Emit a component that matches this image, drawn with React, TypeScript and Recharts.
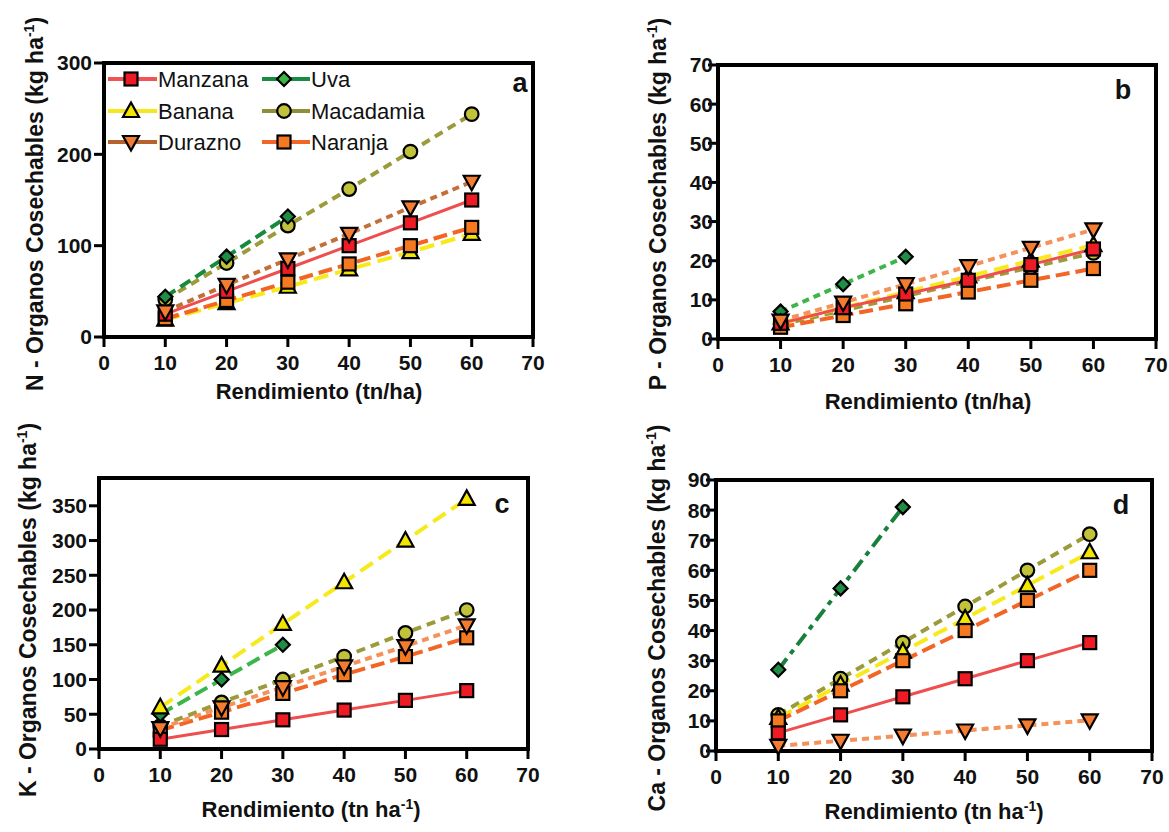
import { LineChart, Line, XAxis, YAxis, ReferenceLine } from "recharts";

const FONT = '"Liberation Sans", Arial, Helvetica, sans-serif';

// x values (tn/ha)
const rendimiento = [10, 20, 30, 40, 50, 60];
const xTicks = [0, 10, 20, 30, 40, 50, 60, 70];

// a - N
const nManzana = [25, 50, 75, 100, 125, 150];
const nBanana = [19, 37, 55, 74, 93, 113];
const nDurazno = [28, 57, 85, 113, 142, 170];
const nUva = [44, 88, 132];
const nMacadamia = [41, 81, 122, 162, 203, 244];
const nNaranja = [20, 40, 60, 80, 100, 120];
const nTicks = [0, 100, 200, 300];

// b - P
const pManzana = [4, 8, 11.5, 15, 19, 23];
const pBanana = [4, 8, 12, 16, 20, 24];
const pDurazno = [4.7, 9.3, 14, 18.6, 23.3, 28];
const pUva = [7, 14, 21];
const pMacadamia = [3.7, 7.3, 11, 14.7, 18.3, 22];
const pNaranja = [3, 6, 9, 12, 15, 18];
const pTicks = [0, 10, 20, 30, 40, 50, 60, 70];

// c - K
const kManzana = [14, 28, 42, 56, 70, 84];
const kBanana = [60, 120, 180, 240, 300, 360];
const kDurazno = [30, 60, 89, 119, 148, 178];
const kUva = [50, 100, 150];
const kMacadamia = [33, 67, 100, 133, 167, 200];
const kNaranja = [27, 53, 80, 107, 133, 160];
const kTicks = [0, 50, 100, 150, 200, 250, 300, 350];

// d - Ca
const caManzana = [6, 12, 18, 24, 30, 36];
const caBanana = [11, 22, 33, 44, 55, 66];
const caDurazno = [1.7, 3.4, 5.1, 6.8, 8.5, 10.2];
const caUva = [27, 54, 81];
const caMacadamia = [12, 24, 36, 48, 60, 72];
const caNaranja = [10, 20, 30, 40, 50, 60];
const caTicks = [0, 10, 20, 30, 40, 50, 60, 70, 80, 90];

type Shape = "square" | "triangle" | "down" | "diamond" | "circle";

function marker(shape: Shape, cx: number, cy: number, fill: string, key?: any) {
  const s = { fill, stroke: "#000", strokeWidth: 2.2 };
  if (shape === "square")
    return <rect key={key} x={cx - 6.5} y={cy - 6.5} width={13} height={13} {...s} />;
  if (shape === "circle") return <circle key={key} cx={cx} cy={cy} r={6.8} {...s} />;
  if (shape === "triangle")
    return <polygon key={key} points={`${cx},${cy - 8.5} ${cx + 8},${cy + 6} ${cx - 8},${cy + 6}`} {...s} />;
  if (shape === "down")
    return <polygon key={key} points={`${cx - 8},${cy - 6} ${cx + 8},${cy - 6} ${cx},${cy + 8.5}`} {...s} />;
  return <polygon key={key} points={`${cx},${cy - 7} ${cx + 7},${cy} ${cx},${cy + 7} ${cx - 7},${cy}`} {...s} />;
}

const dotFn = (shape: Shape, fill: string) => (props: any) => {
  const { cx, cy, index } = props;
  if (cx == null || cy == null || Number.isNaN(cy)) return <g key={`e-${index}`} />;
  return marker(shape, cx, cy, fill, `d-${index}`);
};

type SeriesStyle = { name: string; stroke: string; width: number; dash?: string; shape: Shape; fill: string };

const baseStyles: SeriesStyle[] = [
  { name: "Macadamia", stroke: "#9b9b3b", width: 4, dash: "9 6", shape: "circle", fill: "#c1c23a" },
  { name: "Uva", stroke: "#178a3e", width: 4, dash: "12 6", shape: "diamond", fill: "#1f8d45" },
  { name: "Banana", stroke: "#f7ea1c", width: 4, dash: "15 7", shape: "triangle", fill: "#f2e500" },
  { name: "Naranja", stroke: "#f26524", width: 4, dash: "14 6", shape: "square", fill: "#f47920" },
  { name: "Manzana", stroke: "#f04e4e", width: 3, shape: "square", fill: "#ed1c24" },
  { name: "Durazno", stroke: "#f5915a", width: 4, dash: "7 5", shape: "down", fill: "#f47c30" },
];

function buildRows(m: number[], b: number[], d: number[], u: number[], mac: number[], n: number[]) {
  return rendimiento.map((x, i) => ({
    x,
    Manzana: m[i],
    Banana: b[i],
    Durazno: d[i],
    Uva: u[i],
    Macadamia: mac[i],
    Naranja: n[i],
  }));
}

type Frame = { left: number; top: number; width: number; height: number };
type Box = { l: number; t: number; r: number; b: number };

function Panel({
  frame,
  plot,
  rows,
  yMax,
  yTicks,
  yTickMargin,
  uva,
  duraznoStroke,
}: {
  frame: Frame;
  plot: Box;
  rows: any[];
  yMax: number;
  yTicks: number[];
  yTickMargin: number;
  uva: { stroke: string; dash: string };
  duraznoStroke: string;
}) {
  const YW = 60;
  const XH = 40;
  const margin = {
    left: plot.l - frame.left - YW,
    top: plot.t - frame.top,
    right: frame.left + frame.width - plot.r,
    bottom: frame.top + frame.height - plot.b - XH,
  };
  const tickStyle = { fill: "#111", fontSize: 21, fontWeight: 700, fontFamily: FONT };
  const styles = baseStyles.map((s) =>
    s.name === "Uva" ? { ...s, stroke: uva.stroke, dash: uva.dash } : s.name === "Durazno" ? { ...s, stroke: duraznoStroke } : s
  );
  return (
    <div style={{ position: "absolute", left: frame.left, top: frame.top }}>
      <LineChart width={frame.width} height={frame.height} data={rows} margin={margin}>
        <XAxis
          type="number"
          dataKey="x"
          domain={[0, 70]}
          ticks={xTicks}
          interval={0}
          height={XH}
          tick={tickStyle}
          tickSize={10}
          tickMargin={8}
          tickLine={{ stroke: "#000", strokeWidth: 3 }}
          axisLine={{ stroke: "#000", strokeWidth: 4, strokeLinecap: "square" }}
        />
        <YAxis
          type="number"
          domain={[0, yMax]}
          ticks={yTicks}
          interval={0}
          width={YW}
          tick={tickStyle}
          tickSize={10}
          tickMargin={yTickMargin}
          tickLine={{ stroke: "#000", strokeWidth: 3 }}
          axisLine={{ stroke: "#000", strokeWidth: 4, strokeLinecap: "square" }}
        />
        <ReferenceLine y={yMax} stroke="#000" strokeWidth={4} strokeLinecap="square" />
        <ReferenceLine x={70} stroke="#000" strokeWidth={4} strokeLinecap="square" />
        {styles.map((s) => (
          <Line
            key={s.name}
            type="linear"
            dataKey={s.name}
            stroke={s.stroke}
            strokeWidth={s.width}
            strokeDasharray={s.dash}
            dot={dotFn(s.shape, s.fill)}
            activeDot={false}
            connectNulls={false}
            isAnimationActive={false}
          />
        ))}
      </LineChart>
    </div>
  );
}

const titleBase = { position: "absolute" as const, whiteSpace: "nowrap" as const, fontFamily: FONT, fontWeight: 700, color: "#111" };

function YTitle({ x, y, el }: { x: number; y: number; el: string }) {
  return (
    <div style={{ ...titleBase, left: x, top: y, fontSize: 23, lineHeight: "24px", transform: "translate(-50%,-50%) rotate(-90deg)" }}>
      {el} - Organos Cosechables (kg ha<sup style={{ fontSize: 14, lineHeight: 0 }}>-1</sup>)
    </div>
  );
}

function XTitle({ x, y, sup }: { x: number; y: number; sup: boolean }) {
  return (
    <div style={{ ...titleBase, left: x, top: y, fontSize: 22, lineHeight: "24px", transform: "translate(-50%,-50%)" }}>
      {sup ? (
        <>
          Rendimiento (tn ha<sup style={{ fontSize: 14, lineHeight: 0 }}>-1</sup>)
        </>
      ) : (
        "Rendimiento (tn/ha)"
      )}
    </div>
  );
}

function Letter({ x, y, t }: { x: number; y: number; t: string }) {
  return <div style={{ ...titleBase, left: x, top: y, fontSize: 27, lineHeight: "28px", transform: "translate(-50%,-50%)" }}>{t}</div>;
}

const legendItems = [
  { name: "Manzana", line: "#f05454", shape: "square" as Shape, fill: "#ed1c24", col: 0, row: 0 },
  { name: "Banana", line: "#f5e61e", shape: "triangle" as Shape, fill: "#f2e500", col: 0, row: 1 },
  { name: "Durazno", line: "#b5622e", shape: "down" as Shape, fill: "#f47c30", col: 0, row: 2 },
  { name: "Uva", line: "#1a8b42", shape: "diamond" as Shape, fill: "#3ab54a", col: 1, row: 0 },
  { name: "Macadamia", line: "#8f8f3a", shape: "circle" as Shape, fill: "#c1c23a", col: 1, row: 1 },
  { name: "Naranja", line: "#f06528", shape: "square" as Shape, fill: "#f47920", col: 1, row: 2 },
];

function LegendBox() {
  const cols = [
    { x1: 8, x2: 57, m: 31, t: 58 },
    { x1: 162, x2: 210, m: 184, t: 211 },
  ];
  const rowsY = [19, 51, 82];
  return (
    <svg style={{ position: "absolute", left: 100, top: 60 }} width={360} height={100}>
      {legendItems.map((it) => {
        const c = cols[it.col];
        const y = rowsY[it.row];
        return (
          <g key={it.name}>
            <line x1={c.x1} x2={c.x2} y1={y} y2={y} stroke={it.line} strokeWidth={4} />
            {marker(it.shape, c.m, y, it.fill)}
            <text x={c.t} y={y} dominantBaseline="central" fontSize={22} fontFamily={FONT} fill="#111">
              {it.name}
            </text>
          </g>
        );
      })}
    </svg>
  );
}

export default function App() {
  const rowsN = buildRows(nManzana, nBanana, nDurazno, nUva, nMacadamia, nNaranja);
  const rowsP = buildRows(pManzana, pBanana, pDurazno, pUva, pMacadamia, pNaranja);
  const rowsK = buildRows(kManzana, kBanana, kDurazno, kUva, kMacadamia, kNaranja);
  const rowsCa = buildRows(caManzana, caBanana, caDurazno, caUva, caMacadamia, caNaranja);

  return (
    <div style={{ position: "absolute", left: 0, top: 0, width: 1169, height: 832, background: "#fff", overflow: "hidden", fontFamily: FONT }}>
      <Panel
        frame={{ left: 0, top: 20, width: 580, height: 400 }}
        plot={{ l: 104, t: 63, r: 533, b: 337 }}
        rows={rowsN}
        yMax={300}
        yTicks={nTicks}
        yTickMargin={2}
        uva={{ stroke: "#178a3e", dash: "12 6" }}
        duraznoStroke="#c27038"
      />
      <Panel
        frame={{ left: 590, top: 20, width: 579, height: 400 }}
        plot={{ l: 718, t: 65, r: 1156, b: 339 }}
        rows={rowsP}
        yMax={70}
        yTicks={pTicks}
        yTickMargin={-5}
        uva={{ stroke: "#3db54a", dash: "7 5" }}
        duraznoStroke="#f5915a"
      />
      <Panel
        frame={{ left: 0, top: 440, width: 580, height: 392 }}
        plot={{ l: 99, t: 478, r: 528, b: 749 }}
        rows={rowsK}
        yMax={390}
        yTicks={kTicks}
        yTickMargin={2}
        uva={{ stroke: "#3cb54a", dash: "14 6" }}
        duraznoStroke="#f5915a"
      />
      <Panel
        frame={{ left: 590, top: 440, width: 579, height: 392 }}
        plot={{ l: 716, t: 480, r: 1152, b: 751 }}
        rows={rowsCa}
        yMax={90}
        yTicks={caTicks}
        yTickMargin={-5}
        uva={{ stroke: "#17803a", dash: "14 6 5 6" }}
        duraznoStroke="#f5915a"
      />

      <LegendBox />

      <YTitle x={35} y={204} el="N" />
      <YTitle x={658} y={204} el="P" />
      <YTitle x={28} y={610} el="K" />
      <YTitle x={657} y={618} el="Ca" />

      <XTitle x={319} y={392} sup={false} />
      <XTitle x={928} y={402} sup={false} />
      <XTitle x={311} y={810} sup={true} />
      <XTitle x={934} y={812} sup={true} />

      <Letter x={520} y={83} t="a" />
      <Letter x={1123} y={90} t="b" />
      <Letter x={502} y={504} t="c" />
      <Letter x={1121} y={505} t="d" />
    </div>
  );
}
